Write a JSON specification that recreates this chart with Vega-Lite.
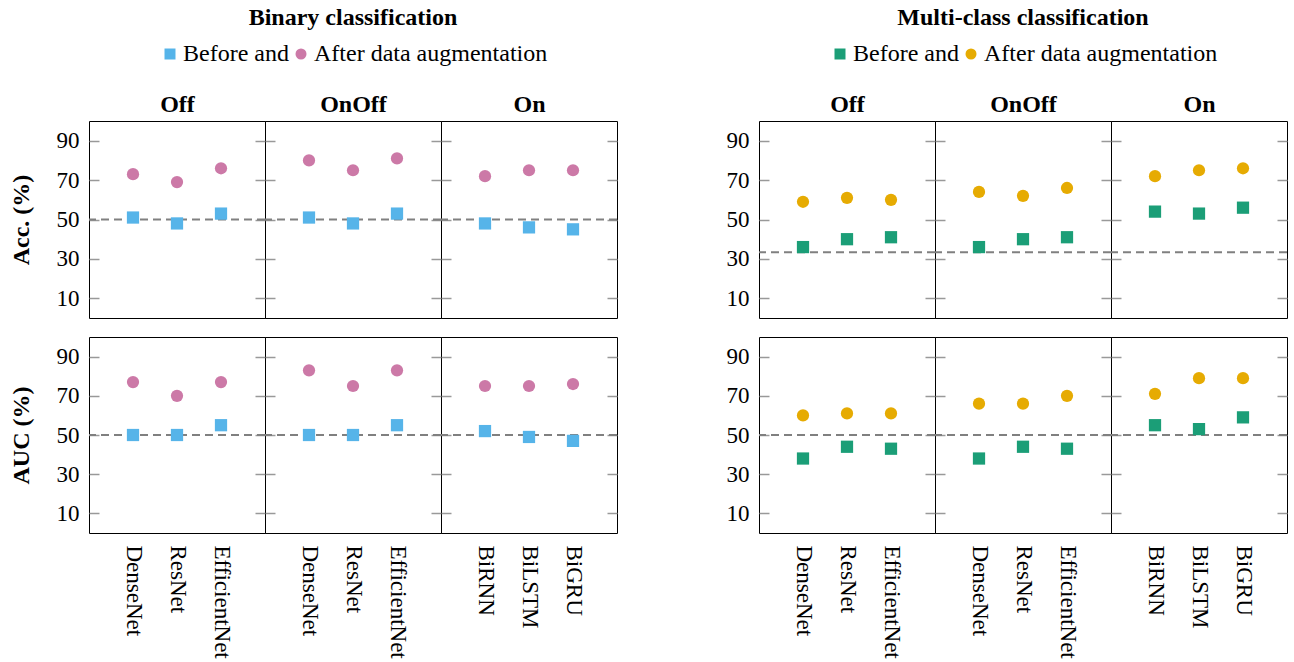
{
  "$schema": "https://vega.github.io/schema/vega-lite/v6.json",
  "padding": {"left": 8, "top": 5, "right": 0, "bottom": 0},
  "background": "white",
  "config": {
    "font": "Liberation Serif",
    "view": {"stroke": "#000000", "strokeWidth": 1},
    "axis": {"domain": false, "grid": false, "tickColor": "#999999", "tickWidth": 1.5, "labelFont": "Liberation Serif", "labelColor": "#000000", "titleFont": "Liberation Serif", "titleColor": "#000000"},
    "legend": {"layout": {"top": {"anchor": "middle"}}},
    "title": {"font": "Liberation Serif", "color": "#000000"}
  },
  "datasets": {
    "baselines": [
      {"group": "Binary", "metric": "Acc", "baseline": 50},
      {"group": "Binary", "metric": "AUC", "baseline": 50},
      {"group": "Multi", "metric": "Acc", "baseline": 33.33},
      {"group": "Multi", "metric": "AUC", "baseline": 50}
    ],
    "scores": [
      {"group": "Binary", "metric": "Acc", "setting": "Off", "model": "DenseNet", "phase": "Before", "value": 51},
      {"group": "Binary", "metric": "Acc", "setting": "Off", "model": "DenseNet", "phase": "After", "value": 73},
      {"group": "Binary", "metric": "Acc", "setting": "Off", "model": "ResNet", "phase": "Before", "value": 48},
      {"group": "Binary", "metric": "Acc", "setting": "Off", "model": "ResNet", "phase": "After", "value": 69},
      {"group": "Binary", "metric": "Acc", "setting": "Off", "model": "EfficientNet", "phase": "Before", "value": 53},
      {"group": "Binary", "metric": "Acc", "setting": "Off", "model": "EfficientNet", "phase": "After", "value": 76},
      {"group": "Binary", "metric": "Acc", "setting": "OnOff", "model": "DenseNet", "phase": "Before", "value": 51},
      {"group": "Binary", "metric": "Acc", "setting": "OnOff", "model": "DenseNet", "phase": "After", "value": 80},
      {"group": "Binary", "metric": "Acc", "setting": "OnOff", "model": "ResNet", "phase": "Before", "value": 48},
      {"group": "Binary", "metric": "Acc", "setting": "OnOff", "model": "ResNet", "phase": "After", "value": 75},
      {"group": "Binary", "metric": "Acc", "setting": "OnOff", "model": "EfficientNet", "phase": "Before", "value": 53},
      {"group": "Binary", "metric": "Acc", "setting": "OnOff", "model": "EfficientNet", "phase": "After", "value": 81},
      {"group": "Binary", "metric": "Acc", "setting": "On", "model": "BiRNN", "phase": "Before", "value": 48},
      {"group": "Binary", "metric": "Acc", "setting": "On", "model": "BiRNN", "phase": "After", "value": 72},
      {"group": "Binary", "metric": "Acc", "setting": "On", "model": "BiLSTM", "phase": "Before", "value": 46},
      {"group": "Binary", "metric": "Acc", "setting": "On", "model": "BiLSTM", "phase": "After", "value": 75},
      {"group": "Binary", "metric": "Acc", "setting": "On", "model": "BiGRU", "phase": "Before", "value": 45},
      {"group": "Binary", "metric": "Acc", "setting": "On", "model": "BiGRU", "phase": "After", "value": 75},
      {"group": "Binary", "metric": "AUC", "setting": "Off", "model": "DenseNet", "phase": "Before", "value": 50},
      {"group": "Binary", "metric": "AUC", "setting": "Off", "model": "DenseNet", "phase": "After", "value": 77},
      {"group": "Binary", "metric": "AUC", "setting": "Off", "model": "ResNet", "phase": "Before", "value": 50},
      {"group": "Binary", "metric": "AUC", "setting": "Off", "model": "ResNet", "phase": "After", "value": 70},
      {"group": "Binary", "metric": "AUC", "setting": "Off", "model": "EfficientNet", "phase": "Before", "value": 55},
      {"group": "Binary", "metric": "AUC", "setting": "Off", "model": "EfficientNet", "phase": "After", "value": 77},
      {"group": "Binary", "metric": "AUC", "setting": "OnOff", "model": "DenseNet", "phase": "Before", "value": 50},
      {"group": "Binary", "metric": "AUC", "setting": "OnOff", "model": "DenseNet", "phase": "After", "value": 83},
      {"group": "Binary", "metric": "AUC", "setting": "OnOff", "model": "ResNet", "phase": "Before", "value": 50},
      {"group": "Binary", "metric": "AUC", "setting": "OnOff", "model": "ResNet", "phase": "After", "value": 75},
      {"group": "Binary", "metric": "AUC", "setting": "OnOff", "model": "EfficientNet", "phase": "Before", "value": 55},
      {"group": "Binary", "metric": "AUC", "setting": "OnOff", "model": "EfficientNet", "phase": "After", "value": 83},
      {"group": "Binary", "metric": "AUC", "setting": "On", "model": "BiRNN", "phase": "Before", "value": 52},
      {"group": "Binary", "metric": "AUC", "setting": "On", "model": "BiRNN", "phase": "After", "value": 75},
      {"group": "Binary", "metric": "AUC", "setting": "On", "model": "BiLSTM", "phase": "Before", "value": 49},
      {"group": "Binary", "metric": "AUC", "setting": "On", "model": "BiLSTM", "phase": "After", "value": 75},
      {"group": "Binary", "metric": "AUC", "setting": "On", "model": "BiGRU", "phase": "Before", "value": 47},
      {"group": "Binary", "metric": "AUC", "setting": "On", "model": "BiGRU", "phase": "After", "value": 76},
      {"group": "Multi", "metric": "Acc", "setting": "Off", "model": "DenseNet", "phase": "Before", "value": 36},
      {"group": "Multi", "metric": "Acc", "setting": "Off", "model": "DenseNet", "phase": "After", "value": 59},
      {"group": "Multi", "metric": "Acc", "setting": "Off", "model": "ResNet", "phase": "Before", "value": 40},
      {"group": "Multi", "metric": "Acc", "setting": "Off", "model": "ResNet", "phase": "After", "value": 61},
      {"group": "Multi", "metric": "Acc", "setting": "Off", "model": "EfficientNet", "phase": "Before", "value": 41},
      {"group": "Multi", "metric": "Acc", "setting": "Off", "model": "EfficientNet", "phase": "After", "value": 60},
      {"group": "Multi", "metric": "Acc", "setting": "OnOff", "model": "DenseNet", "phase": "Before", "value": 36},
      {"group": "Multi", "metric": "Acc", "setting": "OnOff", "model": "DenseNet", "phase": "After", "value": 64},
      {"group": "Multi", "metric": "Acc", "setting": "OnOff", "model": "ResNet", "phase": "Before", "value": 40},
      {"group": "Multi", "metric": "Acc", "setting": "OnOff", "model": "ResNet", "phase": "After", "value": 62},
      {"group": "Multi", "metric": "Acc", "setting": "OnOff", "model": "EfficientNet", "phase": "Before", "value": 41},
      {"group": "Multi", "metric": "Acc", "setting": "OnOff", "model": "EfficientNet", "phase": "After", "value": 66},
      {"group": "Multi", "metric": "Acc", "setting": "On", "model": "BiRNN", "phase": "Before", "value": 54},
      {"group": "Multi", "metric": "Acc", "setting": "On", "model": "BiRNN", "phase": "After", "value": 72},
      {"group": "Multi", "metric": "Acc", "setting": "On", "model": "BiLSTM", "phase": "Before", "value": 53},
      {"group": "Multi", "metric": "Acc", "setting": "On", "model": "BiLSTM", "phase": "After", "value": 75},
      {"group": "Multi", "metric": "Acc", "setting": "On", "model": "BiGRU", "phase": "Before", "value": 56},
      {"group": "Multi", "metric": "Acc", "setting": "On", "model": "BiGRU", "phase": "After", "value": 76},
      {"group": "Multi", "metric": "AUC", "setting": "Off", "model": "DenseNet", "phase": "Before", "value": 38},
      {"group": "Multi", "metric": "AUC", "setting": "Off", "model": "DenseNet", "phase": "After", "value": 60},
      {"group": "Multi", "metric": "AUC", "setting": "Off", "model": "ResNet", "phase": "Before", "value": 44},
      {"group": "Multi", "metric": "AUC", "setting": "Off", "model": "ResNet", "phase": "After", "value": 61},
      {"group": "Multi", "metric": "AUC", "setting": "Off", "model": "EfficientNet", "phase": "Before", "value": 43},
      {"group": "Multi", "metric": "AUC", "setting": "Off", "model": "EfficientNet", "phase": "After", "value": 61},
      {"group": "Multi", "metric": "AUC", "setting": "OnOff", "model": "DenseNet", "phase": "Before", "value": 38},
      {"group": "Multi", "metric": "AUC", "setting": "OnOff", "model": "DenseNet", "phase": "After", "value": 66},
      {"group": "Multi", "metric": "AUC", "setting": "OnOff", "model": "ResNet", "phase": "Before", "value": 44},
      {"group": "Multi", "metric": "AUC", "setting": "OnOff", "model": "ResNet", "phase": "After", "value": 66},
      {"group": "Multi", "metric": "AUC", "setting": "OnOff", "model": "EfficientNet", "phase": "Before", "value": 43},
      {"group": "Multi", "metric": "AUC", "setting": "OnOff", "model": "EfficientNet", "phase": "After", "value": 70},
      {"group": "Multi", "metric": "AUC", "setting": "On", "model": "BiRNN", "phase": "Before", "value": 55},
      {"group": "Multi", "metric": "AUC", "setting": "On", "model": "BiRNN", "phase": "After", "value": 71},
      {"group": "Multi", "metric": "AUC", "setting": "On", "model": "BiLSTM", "phase": "Before", "value": 53},
      {"group": "Multi", "metric": "AUC", "setting": "On", "model": "BiLSTM", "phase": "After", "value": 79},
      {"group": "Multi", "metric": "AUC", "setting": "On", "model": "BiGRU", "phase": "Before", "value": 59},
      {"group": "Multi", "metric": "AUC", "setting": "On", "model": "BiGRU", "phase": "After", "value": 79}
    ]
  },
  "resolve": {"scale": {"color": "independent", "shape": "independent"}},
  "spacing": 106,
  "hconcat": [
    {
      "spacing": 17,
      "resolve": {"scale": {"color": "independent", "shape": "independent"}},
      "vconcat": [
        {
          "spacing": 0,
          "bounds": "flush",
          "resolve": {"scale": {"color": "independent", "shape": "independent"}},
          "hconcat": [
            {
              "width": 176, "height": 197,
              "layer": [
                {"data": {"name": "baselines"}, "transform": [{"filter": {"and": [{"field": "group", "equal": "Binary"}, {"field": "metric", "equal": "Acc"}]}}],
                 "mark": {"type": "rule", "strokeDash": [8, 5], "strokeWidth": 2, "color": "#808080"},
                 "encoding": {"y": {"field": "baseline", "type": "quantitative", "scale": {"domain": [0, 100]}, "axis": {"orient": "right", "values": [10, 30, 50, 70, 90], "labels": false, "title": null, "tickSize": -10}}}},
                {"data": {"name": "scores"}, "transform": [{"filter": {"and": [{"field": "group", "equal": "Binary"}, {"field": "metric", "equal": "Acc"}, {"field": "setting", "equal": "Off"}]}}],
                 "mark": {"type": "point", "filled": true, "opacity": 1, "size": 150},
                 "encoding": {
                   "x": {"field": "model", "type": "nominal", "sort": null, "scale": {"type": "point", "padding": 1}, "axis": {"orient": "top", "labels": false, "ticks": false, "title": "Off", "titleFontSize": 24, "titleFontWeight": "bold", "titlePadding": 5}},
                   "y": {"field": "value", "type": "quantitative", "scale": {"domain": [0, 100]}, "axis": {"orient": "left", "values": [10, 30, 50, 70, 90], "tickSize": -10, "labelFontSize": 23, "labelPadding": 20, "title": "Acc. (%)", "titleFontSize": 24, "titleFontWeight": "bold", "titlePadding": 23}},
                   "color": {"field": "phase", "type": "nominal", "scale": {"domain": ["Before", "After"], "range": ["#56B4E9", "#CC79A7"]}, "legend": null},
                   "shape": {"field": "phase", "type": "nominal", "scale": {"domain": ["Before", "After"], "range": ["square", "circle"]}, "legend": null}
                 }}
              ],
              "resolve": {"axis": {"y": "independent"}}
            },
            {
              "width": 176, "height": 197,
              "title": {"text": "Binary classification", "frame": "group", "anchor": "middle", "fontSize": 24, "fontWeight": "bold", "offset": 12},
              "layer": [
                {"data": {"name": "baselines"}, "transform": [{"filter": {"and": [{"field": "group", "equal": "Binary"}, {"field": "metric", "equal": "Acc"}]}}],
                 "mark": {"type": "rule", "strokeDash": [8, 5], "strokeWidth": 2, "color": "#808080"},
                 "encoding": {"y": {"field": "baseline", "type": "quantitative", "scale": {"domain": [0, 100]}, "axis": {"orient": "right", "values": [10, 30, 50, 70, 90], "labels": false, "title": null, "tickSize": -10}}}},
                {"data": {"name": "scores"}, "transform": [{"filter": {"and": [{"field": "group", "equal": "Binary"}, {"field": "metric", "equal": "Acc"}, {"field": "setting", "equal": "OnOff"}]}}],
                 "mark": {"type": "point", "filled": true, "opacity": 1, "size": 150},
                 "encoding": {
                   "x": {"field": "model", "type": "nominal", "sort": null, "scale": {"type": "point", "padding": 1}, "axis": {"orient": "top", "labels": false, "ticks": false, "title": "OnOff", "titleFontSize": 24, "titleFontWeight": "bold", "titlePadding": 5}},
                   "y": {"field": "value", "type": "quantitative", "scale": {"domain": [0, 100]}, "axis": {"orient": "left", "values": [10, 30, 50, 70, 90], "tickSize": -10, "labels": false, "title": null}},
                   "color": {"field": "phase", "type": "nominal", "scale": {"domain": ["Before", "After"], "range": ["#56B4E9", "#CC79A7"]}, "legend": {"orient": "top", "direction": "horizontal", "title": null, "labelExpr": "datum.label == 'Before' ? 'Before and' : 'After data augmentation'", "labelFont": "Liberation Serif", "labelFontSize": 24, "labelColor": "#000000", "labelLimit": 500, "symbolSize": 121, "symbolStrokeWidth": 0, "labelOffset": 1, "columnPadding": 0, "offset": 26}},
                   "shape": {"field": "phase", "type": "nominal", "scale": {"domain": ["Before", "After"], "range": ["square", "circle"]}, "legend": {"orient": "top", "direction": "horizontal", "title": null, "labelExpr": "datum.label == 'Before' ? 'Before and' : 'After data augmentation'", "labelFont": "Liberation Serif", "labelFontSize": 24, "labelColor": "#000000", "labelLimit": 500, "symbolSize": 121, "symbolStrokeWidth": 0, "labelOffset": 1, "columnPadding": 0, "offset": 26}}
                 }}
              ],
              "resolve": {"axis": {"y": "independent"}}
            },
            {
              "width": 176, "height": 197,
              "layer": [
                {"data": {"name": "baselines"}, "transform": [{"filter": {"and": [{"field": "group", "equal": "Binary"}, {"field": "metric", "equal": "Acc"}]}}],
                 "mark": {"type": "rule", "strokeDash": [8, 5], "strokeWidth": 2, "color": "#808080"},
                 "encoding": {"y": {"field": "baseline", "type": "quantitative", "scale": {"domain": [0, 100]}, "axis": {"orient": "right", "values": [10, 30, 50, 70, 90], "labels": false, "title": null, "tickSize": -10}}}},
                {"data": {"name": "scores"}, "transform": [{"filter": {"and": [{"field": "group", "equal": "Binary"}, {"field": "metric", "equal": "Acc"}, {"field": "setting", "equal": "On"}]}}],
                 "mark": {"type": "point", "filled": true, "opacity": 1, "size": 150},
                 "encoding": {
                   "x": {"field": "model", "type": "nominal", "sort": null, "scale": {"type": "point", "padding": 1}, "axis": {"orient": "top", "labels": false, "ticks": false, "title": "On", "titleFontSize": 24, "titleFontWeight": "bold", "titlePadding": 5}},
                   "y": {"field": "value", "type": "quantitative", "scale": {"domain": [0, 100]}, "axis": {"orient": "left", "values": [10, 30, 50, 70, 90], "tickSize": -10, "labels": false, "title": null}},
                   "color": {"field": "phase", "type": "nominal", "scale": {"domain": ["Before", "After"], "range": ["#56B4E9", "#CC79A7"]}, "legend": null},
                   "shape": {"field": "phase", "type": "nominal", "scale": {"domain": ["Before", "After"], "range": ["square", "circle"]}, "legend": null}
                 }}
              ],
              "resolve": {"axis": {"y": "independent"}}
            }
          ]
        },
        {
          "spacing": 0,
          "bounds": "flush",
          "resolve": {"scale": {"color": "independent", "shape": "independent"}},
          "hconcat": [
            {
              "width": 176, "height": 196,
              "layer": [
                {"data": {"name": "baselines"}, "transform": [{"filter": {"and": [{"field": "group", "equal": "Binary"}, {"field": "metric", "equal": "AUC"}]}}],
                 "mark": {"type": "rule", "strokeDash": [8, 5], "strokeWidth": 2, "color": "#808080"},
                 "encoding": {"y": {"field": "baseline", "type": "quantitative", "scale": {"domain": [0, 100]}, "axis": {"orient": "right", "values": [10, 30, 50, 70, 90], "labels": false, "title": null, "tickSize": -10}}}},
                {"data": {"name": "scores"}, "transform": [{"filter": {"and": [{"field": "group", "equal": "Binary"}, {"field": "metric", "equal": "AUC"}, {"field": "setting", "equal": "Off"}]}}],
                 "mark": {"type": "point", "filled": true, "opacity": 1, "size": 150},
                 "encoding": {
                   "x": {"field": "model", "type": "nominal", "sort": null, "scale": {"type": "point", "padding": 1}, "axis": {"orient": "bottom", "title": null, "labelAngle": 90, "labelFontSize": 23, "labelPadding": 12, "ticks": false, "tickSize": 0}},
                   "y": {"field": "value", "type": "quantitative", "scale": {"domain": [0, 100]}, "axis": {"orient": "left", "values": [10, 30, 50, 70, 90], "tickSize": -10, "labelFontSize": 23, "labelPadding": 20, "title": "AUC (%)", "titleFontSize": 24, "titleFontWeight": "bold", "titlePadding": 23}},
                   "color": {"field": "phase", "type": "nominal", "scale": {"domain": ["Before", "After"], "range": ["#56B4E9", "#CC79A7"]}, "legend": null},
                   "shape": {"field": "phase", "type": "nominal", "scale": {"domain": ["Before", "After"], "range": ["square", "circle"]}, "legend": null}
                 }}
              ],
              "resolve": {"axis": {"y": "independent"}}
            },
            {
              "width": 176, "height": 196,
              "layer": [
                {"data": {"name": "baselines"}, "transform": [{"filter": {"and": [{"field": "group", "equal": "Binary"}, {"field": "metric", "equal": "AUC"}]}}],
                 "mark": {"type": "rule", "strokeDash": [8, 5], "strokeWidth": 2, "color": "#808080"},
                 "encoding": {"y": {"field": "baseline", "type": "quantitative", "scale": {"domain": [0, 100]}, "axis": {"orient": "right", "values": [10, 30, 50, 70, 90], "labels": false, "title": null, "tickSize": -10}}}},
                {"data": {"name": "scores"}, "transform": [{"filter": {"and": [{"field": "group", "equal": "Binary"}, {"field": "metric", "equal": "AUC"}, {"field": "setting", "equal": "OnOff"}]}}],
                 "mark": {"type": "point", "filled": true, "opacity": 1, "size": 150},
                 "encoding": {
                   "x": {"field": "model", "type": "nominal", "sort": null, "scale": {"type": "point", "padding": 1}, "axis": {"orient": "bottom", "title": null, "labelAngle": 90, "labelFontSize": 23, "labelPadding": 12, "ticks": false, "tickSize": 0}},
                   "y": {"field": "value", "type": "quantitative", "scale": {"domain": [0, 100]}, "axis": {"orient": "left", "values": [10, 30, 50, 70, 90], "tickSize": -10, "labels": false, "title": null}},
                   "color": {"field": "phase", "type": "nominal", "scale": {"domain": ["Before", "After"], "range": ["#56B4E9", "#CC79A7"]}, "legend": null},
                   "shape": {"field": "phase", "type": "nominal", "scale": {"domain": ["Before", "After"], "range": ["square", "circle"]}, "legend": null}
                 }}
              ],
              "resolve": {"axis": {"y": "independent"}}
            },
            {
              "width": 176, "height": 196,
              "layer": [
                {"data": {"name": "baselines"}, "transform": [{"filter": {"and": [{"field": "group", "equal": "Binary"}, {"field": "metric", "equal": "AUC"}]}}],
                 "mark": {"type": "rule", "strokeDash": [8, 5], "strokeWidth": 2, "color": "#808080"},
                 "encoding": {"y": {"field": "baseline", "type": "quantitative", "scale": {"domain": [0, 100]}, "axis": {"orient": "right", "values": [10, 30, 50, 70, 90], "labels": false, "title": null, "tickSize": -10}}}},
                {"data": {"name": "scores"}, "transform": [{"filter": {"and": [{"field": "group", "equal": "Binary"}, {"field": "metric", "equal": "AUC"}, {"field": "setting", "equal": "On"}]}}],
                 "mark": {"type": "point", "filled": true, "opacity": 1, "size": 150},
                 "encoding": {
                   "x": {"field": "model", "type": "nominal", "sort": null, "scale": {"type": "point", "padding": 1}, "axis": {"orient": "bottom", "title": null, "labelAngle": 90, "labelFontSize": 23, "labelPadding": 12, "ticks": false, "tickSize": 0}},
                   "y": {"field": "value", "type": "quantitative", "scale": {"domain": [0, 100]}, "axis": {"orient": "left", "values": [10, 30, 50, 70, 90], "tickSize": -10, "labels": false, "title": null}},
                   "color": {"field": "phase", "type": "nominal", "scale": {"domain": ["Before", "After"], "range": ["#56B4E9", "#CC79A7"]}, "legend": null},
                   "shape": {"field": "phase", "type": "nominal", "scale": {"domain": ["Before", "After"], "range": ["square", "circle"]}, "legend": null}
                 }}
              ],
              "resolve": {"axis": {"y": "independent"}}
            }
          ]
        }
      ]
    },
    {
      "spacing": 17,
      "resolve": {"scale": {"color": "independent", "shape": "independent"}},
      "vconcat": [
        {
          "spacing": 0,
          "bounds": "flush",
          "resolve": {"scale": {"color": "independent", "shape": "independent"}},
          "hconcat": [
            {
              "width": 176, "height": 197,
              "layer": [
                {"data": {"name": "baselines"}, "transform": [{"filter": {"and": [{"field": "group", "equal": "Multi"}, {"field": "metric", "equal": "Acc"}]}}],
                 "mark": {"type": "rule", "strokeDash": [8, 5], "strokeWidth": 2, "color": "#808080"},
                 "encoding": {"y": {"field": "baseline", "type": "quantitative", "scale": {"domain": [0, 100]}, "axis": {"orient": "right", "values": [10, 30, 50, 70, 90], "labels": false, "title": null, "tickSize": -10}}}},
                {"data": {"name": "scores"}, "transform": [{"filter": {"and": [{"field": "group", "equal": "Multi"}, {"field": "metric", "equal": "Acc"}, {"field": "setting", "equal": "Off"}]}}],
                 "mark": {"type": "point", "filled": true, "opacity": 1, "size": 150},
                 "encoding": {
                   "x": {"field": "model", "type": "nominal", "sort": null, "scale": {"type": "point", "padding": 1}, "axis": {"orient": "top", "labels": false, "ticks": false, "title": "Off", "titleFontSize": 24, "titleFontWeight": "bold", "titlePadding": 5}},
                   "y": {"field": "value", "type": "quantitative", "scale": {"domain": [0, 100]}, "axis": {"orient": "left", "values": [10, 30, 50, 70, 90], "tickSize": -10, "labelFontSize": 23, "labelPadding": 20, "title": null}},
                   "color": {"field": "phase", "type": "nominal", "scale": {"domain": ["Before", "After"], "range": ["#1B9E77", "#E6AB02"]}, "legend": null},
                   "shape": {"field": "phase", "type": "nominal", "scale": {"domain": ["Before", "After"], "range": ["square", "circle"]}, "legend": null}
                 }}
              ],
              "resolve": {"axis": {"y": "independent"}}
            },
            {
              "width": 176, "height": 197,
              "title": {"text": "Multi-class classification", "frame": "group", "anchor": "middle", "fontSize": 24, "fontWeight": "bold", "offset": 12},
              "layer": [
                {"data": {"name": "baselines"}, "transform": [{"filter": {"and": [{"field": "group", "equal": "Multi"}, {"field": "metric", "equal": "Acc"}]}}],
                 "mark": {"type": "rule", "strokeDash": [8, 5], "strokeWidth": 2, "color": "#808080"},
                 "encoding": {"y": {"field": "baseline", "type": "quantitative", "scale": {"domain": [0, 100]}, "axis": {"orient": "right", "values": [10, 30, 50, 70, 90], "labels": false, "title": null, "tickSize": -10}}}},
                {"data": {"name": "scores"}, "transform": [{"filter": {"and": [{"field": "group", "equal": "Multi"}, {"field": "metric", "equal": "Acc"}, {"field": "setting", "equal": "OnOff"}]}}],
                 "mark": {"type": "point", "filled": true, "opacity": 1, "size": 150},
                 "encoding": {
                   "x": {"field": "model", "type": "nominal", "sort": null, "scale": {"type": "point", "padding": 1}, "axis": {"orient": "top", "labels": false, "ticks": false, "title": "OnOff", "titleFontSize": 24, "titleFontWeight": "bold", "titlePadding": 5}},
                   "y": {"field": "value", "type": "quantitative", "scale": {"domain": [0, 100]}, "axis": {"orient": "left", "values": [10, 30, 50, 70, 90], "tickSize": -10, "labels": false, "title": null}},
                   "color": {"field": "phase", "type": "nominal", "scale": {"domain": ["Before", "After"], "range": ["#1B9E77", "#E6AB02"]}, "legend": {"orient": "top", "direction": "horizontal", "title": null, "labelExpr": "datum.label == 'Before' ? 'Before and' : 'After data augmentation'", "labelFont": "Liberation Serif", "labelFontSize": 24, "labelColor": "#000000", "labelLimit": 500, "symbolSize": 121, "symbolStrokeWidth": 0, "labelOffset": 1, "columnPadding": 0, "offset": 26}},
                   "shape": {"field": "phase", "type": "nominal", "scale": {"domain": ["Before", "After"], "range": ["square", "circle"]}, "legend": {"orient": "top", "direction": "horizontal", "title": null, "labelExpr": "datum.label == 'Before' ? 'Before and' : 'After data augmentation'", "labelFont": "Liberation Serif", "labelFontSize": 24, "labelColor": "#000000", "labelLimit": 500, "symbolSize": 121, "symbolStrokeWidth": 0, "labelOffset": 1, "columnPadding": 0, "offset": 26}}
                 }}
              ],
              "resolve": {"axis": {"y": "independent"}}
            },
            {
              "width": 176, "height": 197,
              "layer": [
                {"data": {"name": "baselines"}, "transform": [{"filter": {"and": [{"field": "group", "equal": "Multi"}, {"field": "metric", "equal": "Acc"}]}}],
                 "mark": {"type": "rule", "strokeDash": [8, 5], "strokeWidth": 2, "color": "#808080"},
                 "encoding": {"y": {"field": "baseline", "type": "quantitative", "scale": {"domain": [0, 100]}, "axis": {"orient": "right", "values": [10, 30, 50, 70, 90], "labels": false, "title": null, "tickSize": -10}}}},
                {"data": {"name": "scores"}, "transform": [{"filter": {"and": [{"field": "group", "equal": "Multi"}, {"field": "metric", "equal": "Acc"}, {"field": "setting", "equal": "On"}]}}],
                 "mark": {"type": "point", "filled": true, "opacity": 1, "size": 150},
                 "encoding": {
                   "x": {"field": "model", "type": "nominal", "sort": null, "scale": {"type": "point", "padding": 1}, "axis": {"orient": "top", "labels": false, "ticks": false, "title": "On", "titleFontSize": 24, "titleFontWeight": "bold", "titlePadding": 5}},
                   "y": {"field": "value", "type": "quantitative", "scale": {"domain": [0, 100]}, "axis": {"orient": "left", "values": [10, 30, 50, 70, 90], "tickSize": -10, "labels": false, "title": null}},
                   "color": {"field": "phase", "type": "nominal", "scale": {"domain": ["Before", "After"], "range": ["#1B9E77", "#E6AB02"]}, "legend": null},
                   "shape": {"field": "phase", "type": "nominal", "scale": {"domain": ["Before", "After"], "range": ["square", "circle"]}, "legend": null}
                 }}
              ],
              "resolve": {"axis": {"y": "independent"}}
            }
          ]
        },
        {
          "spacing": 0,
          "bounds": "flush",
          "resolve": {"scale": {"color": "independent", "shape": "independent"}},
          "hconcat": [
            {
              "width": 176, "height": 196,
              "layer": [
                {"data": {"name": "baselines"}, "transform": [{"filter": {"and": [{"field": "group", "equal": "Multi"}, {"field": "metric", "equal": "AUC"}]}}],
                 "mark": {"type": "rule", "strokeDash": [8, 5], "strokeWidth": 2, "color": "#808080"},
                 "encoding": {"y": {"field": "baseline", "type": "quantitative", "scale": {"domain": [0, 100]}, "axis": {"orient": "right", "values": [10, 30, 50, 70, 90], "labels": false, "title": null, "tickSize": -10}}}},
                {"data": {"name": "scores"}, "transform": [{"filter": {"and": [{"field": "group", "equal": "Multi"}, {"field": "metric", "equal": "AUC"}, {"field": "setting", "equal": "Off"}]}}],
                 "mark": {"type": "point", "filled": true, "opacity": 1, "size": 150},
                 "encoding": {
                   "x": {"field": "model", "type": "nominal", "sort": null, "scale": {"type": "point", "padding": 1}, "axis": {"orient": "bottom", "title": null, "labelAngle": 90, "labelFontSize": 23, "labelPadding": 12, "ticks": false, "tickSize": 0}},
                   "y": {"field": "value", "type": "quantitative", "scale": {"domain": [0, 100]}, "axis": {"orient": "left", "values": [10, 30, 50, 70, 90], "tickSize": -10, "labelFontSize": 23, "labelPadding": 20, "title": null}},
                   "color": {"field": "phase", "type": "nominal", "scale": {"domain": ["Before", "After"], "range": ["#1B9E77", "#E6AB02"]}, "legend": null},
                   "shape": {"field": "phase", "type": "nominal", "scale": {"domain": ["Before", "After"], "range": ["square", "circle"]}, "legend": null}
                 }}
              ],
              "resolve": {"axis": {"y": "independent"}}
            },
            {
              "width": 176, "height": 196,
              "layer": [
                {"data": {"name": "baselines"}, "transform": [{"filter": {"and": [{"field": "group", "equal": "Multi"}, {"field": "metric", "equal": "AUC"}]}}],
                 "mark": {"type": "rule", "strokeDash": [8, 5], "strokeWidth": 2, "color": "#808080"},
                 "encoding": {"y": {"field": "baseline", "type": "quantitative", "scale": {"domain": [0, 100]}, "axis": {"orient": "right", "values": [10, 30, 50, 70, 90], "labels": false, "title": null, "tickSize": -10}}}},
                {"data": {"name": "scores"}, "transform": [{"filter": {"and": [{"field": "group", "equal": "Multi"}, {"field": "metric", "equal": "AUC"}, {"field": "setting", "equal": "OnOff"}]}}],
                 "mark": {"type": "point", "filled": true, "opacity": 1, "size": 150},
                 "encoding": {
                   "x": {"field": "model", "type": "nominal", "sort": null, "scale": {"type": "point", "padding": 1}, "axis": {"orient": "bottom", "title": null, "labelAngle": 90, "labelFontSize": 23, "labelPadding": 12, "ticks": false, "tickSize": 0}},
                   "y": {"field": "value", "type": "quantitative", "scale": {"domain": [0, 100]}, "axis": {"orient": "left", "values": [10, 30, 50, 70, 90], "tickSize": -10, "labels": false, "title": null}},
                   "color": {"field": "phase", "type": "nominal", "scale": {"domain": ["Before", "After"], "range": ["#1B9E77", "#E6AB02"]}, "legend": null},
                   "shape": {"field": "phase", "type": "nominal", "scale": {"domain": ["Before", "After"], "range": ["square", "circle"]}, "legend": null}
                 }}
              ],
              "resolve": {"axis": {"y": "independent"}}
            },
            {
              "width": 176, "height": 196,
              "layer": [
                {"data": {"name": "baselines"}, "transform": [{"filter": {"and": [{"field": "group", "equal": "Multi"}, {"field": "metric", "equal": "AUC"}]}}],
                 "mark": {"type": "rule", "strokeDash": [8, 5], "strokeWidth": 2, "color": "#808080"},
                 "encoding": {"y": {"field": "baseline", "type": "quantitative", "scale": {"domain": [0, 100]}, "axis": {"orient": "right", "values": [10, 30, 50, 70, 90], "labels": false, "title": null, "tickSize": -10}}}},
                {"data": {"name": "scores"}, "transform": [{"filter": {"and": [{"field": "group", "equal": "Multi"}, {"field": "metric", "equal": "AUC"}, {"field": "setting", "equal": "On"}]}}],
                 "mark": {"type": "point", "filled": true, "opacity": 1, "size": 150},
                 "encoding": {
                   "x": {"field": "model", "type": "nominal", "sort": null, "scale": {"type": "point", "padding": 1}, "axis": {"orient": "bottom", "title": null, "labelAngle": 90, "labelFontSize": 23, "labelPadding": 12, "ticks": false, "tickSize": 0}},
                   "y": {"field": "value", "type": "quantitative", "scale": {"domain": [0, 100]}, "axis": {"orient": "left", "values": [10, 30, 50, 70, 90], "tickSize": -10, "labels": false, "title": null}},
                   "color": {"field": "phase", "type": "nominal", "scale": {"domain": ["Before", "After"], "range": ["#1B9E77", "#E6AB02"]}, "legend": null},
                   "shape": {"field": "phase", "type": "nominal", "scale": {"domain": ["Before", "After"], "range": ["square", "circle"]}, "legend": null}
                 }}
              ],
              "resolve": {"axis": {"y": "independent"}}
            }
          ]
        }
      ]
    }
  ]
}
